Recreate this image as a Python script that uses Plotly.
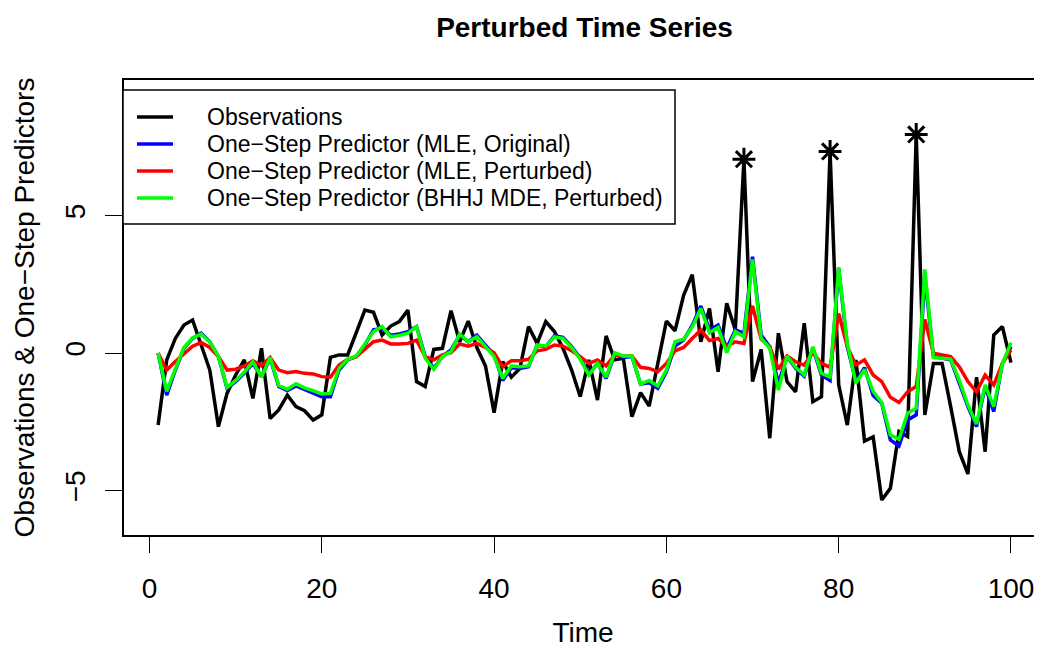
import plotly.graph_objects as go

time = list(range(1, 101))

observations = [
    -2.62, -0.25, 0.53, 1.02, 1.20, 0.25, -0.62, -2.68, -1.47, -0.80,
    -0.25, -1.65, 0.17, -2.38, -2.07, -1.53, -1.95, -2.10, -2.44, -2.25,
    -0.16, -0.07, -0.07, 0.74, 1.56, 1.48, 0.65, 0.98, 1.14, 1.56,
    -1.04, -1.22, 0.13, 0.17, 1.54, 0.41, 1.16, 0.20, -0.47, -2.17,
    -0.31, -0.88, -0.56, 0.96, 0.35, 1.14, 0.78, 0.17, -0.62, -1.59,
    -0.25, -1.71, 0.62, -0.25, -0.19, -2.32, -1.44, -1.93, -0.38, 1.16,
    0.81, 2.10, 2.85, 0.41, 1.62, -0.68, 1.81, 0.84, 7.05, -1.04,
    0.13, -3.10, 0.72, -1.04, -1.41, 1.08, -1.77, -1.59, 7.33, -1.16,
    -2.62, -0.25, -3.20, -3.05, -5.35, -4.92, -2.86, -3.04, 7.95, -2.25,
    -0.38, -0.38, -1.95, -3.59, -4.40, -0.88, -3.59, 0.65, 0.96, -0.35,
]

mle_original = [
    0.00, -1.53, -0.62, 0.17, 0.53, 0.72, 0.41, -0.13, -1.28, -1.04,
    -0.74, -0.38, -0.86, -0.19, -1.22, -1.37, -1.20, -1.32, -1.44, -1.59,
    -1.59, -0.62, -0.25, -0.13, 0.29, 0.84, 0.90, 0.65, 0.69, 0.78,
    0.96, -0.13, -0.56, -0.13, 0.11, 0.65, 0.41, 0.65, 0.29, -0.07,
    -1.00, -0.54, -0.56, -0.50, 0.29, 0.23, 0.62, 0.57, 0.23, -0.19,
    -0.76, -0.38, -0.92, -0.04, -0.16, -0.13, -1.13, -1.08, -1.28, -0.68,
    0.25, 0.47, 1.00, 1.71, 0.84, 1.02, 0.17, 0.84, 0.72, 3.50,
    0.65, 0.23, -1.10, -0.13, -0.56, -0.84, 0.17, -0.80, -1.00, 3.08,
    0.23, -1.04, -0.53, -1.55, -1.83, -3.16, -3.38, -2.44, -2.25, 2.78,
    -0.13, -0.19, -0.25, -1.10, -1.95, -2.68, -1.22, -2.13, -0.38, 0.23,
]

mle_perturbed = [
    0.00, -0.62, -0.31, -0.01, 0.25, 0.38, 0.20, -0.13, -0.62, -0.59,
    -0.47, -0.28, -0.47, -0.16, -0.62, -0.72, -0.67, -0.74, -0.76, -0.86,
    -0.88, -0.44, -0.23, -0.13, 0.13, 0.41, 0.47, 0.33, 0.33, 0.35,
    0.47, -0.13, -0.25, -0.07, 0.01, 0.33, 0.25, 0.35, 0.20, 0.01,
    -0.50, -0.28, -0.28, -0.23, 0.08, 0.13, 0.29, 0.25, 0.08, -0.13,
    -0.38, -0.25, -0.47, -0.07, -0.11, -0.11, -0.52, -0.56, -0.68, -0.38,
    0.08, 0.20, 0.53, 0.84, 0.45, 0.53, 0.23, 0.41, 0.35, 1.71,
    0.50, 0.23, -0.59, -0.11, -0.32, -0.44, 0.01, -0.38, -0.52, 1.44,
    0.23, -0.44, -0.25, -0.80, -1.04, -1.61, -1.80, -1.41, -1.22, 1.22,
    -0.01, -0.07, -0.13, -0.50, -1.04, -1.41, -0.80, -1.16, -0.38, 0.11,
]

bhhj_perturbed = [
    0.00, -1.40, -0.58, 0.20, 0.55, 0.69, 0.40, -0.12, -1.25, -1.00,
    -0.70, -0.32, -0.88, -0.16, -1.18, -1.32, -1.12, -1.27, -1.37, -1.49,
    -1.47, -0.56, -0.23, -0.11, 0.33, 0.78, 0.96, 0.59, 0.64, 0.72,
    0.96, -0.19, -0.59, -0.13, 0.05, 0.69, 0.41, 0.59, 0.23, -0.13,
    -0.92, -0.47, -0.50, -0.47, 0.29, 0.25, 0.59, 0.53, 0.20, -0.23,
    -0.80, -0.38, -0.88, 0.01, -0.11, -0.11, -1.13, -1.00, -1.20, -0.62,
    0.41, 0.50, 0.95, 1.62, 0.74, 0.93, 0.01, 0.78, 0.59, 3.40,
    0.53, 0.17, -1.35, -0.11, -0.52, -0.80, 0.23, -0.74, -0.88, 3.12,
    0.35, -1.10, -0.60, -1.40, -1.80, -2.98, -3.14, -2.19, -2.01, 3.04,
    -0.16, -0.19, -0.22, -1.00, -1.89, -2.58, -1.16, -1.95, -0.40, 0.38,
]

outlier_times = [69, 79, 89]
outlier_values = [observations[t - 1] for t in outlier_times]

series_names = [
    "Observations",
    "One\u2212Step Predictor (MLE, Original)",
    "One\u2212Step Predictor (MLE, Perturbed)",
    "One\u2212Step Predictor (BHHJ MDE, Perturbed)",
]
series_colors = ["#000000", "#0000FF", "#FF0000", "#00FF00"]
series_values = [observations, mle_original, mle_perturbed, bhhj_perturbed]

x_ticks = [0, 20, 40, 60, 80, 100]
y_ticks = [-5, 0, 5]

FONT = "Liberation Sans, Arial, Helvetica, sans-serif"
# The page body has an 8px margin, so the figure is drawn 8px smaller
# and all page-pixel positions below are shifted by that offset.
OFF = 8
W, H = 1042 - OFF, 648 - OFF
ML, MR, MT = 124 - OFF, 0, 80 - OFF
MB = H - (535 - OFF)
PW, PH = W - ML - MR, H - MT - MB

def px_x(p):
    return (p - OFF - ML) / PW

def px_y(p):
    return (H - MB - (p - OFF)) / PH

fig = go.Figure()
for name, color, vals in zip(series_names, series_colors, series_values):
    fig.add_trace(go.Scatter(
        x=time, y=vals, mode="lines", name=name,
        line=dict(color=color, width=3.5), showlegend=False,
    ))

fig.add_trace(go.Scatter(
    x=outlier_times, y=outlier_values, mode="markers", showlegend=False,
    marker=dict(symbol="asterisk-open", size=19, color="black",
                line=dict(color="black", width=3)),
))

# legend box (manual, matching base R legend)
shapes = [dict(type="rect", xref="paper", yref="paper",
               x0=px_x(123), x1=px_x(675), y0=px_y(224), y1=px_y(90),
               line=dict(color="black", width=1.5), fillcolor="white",
               layer="above")]
annotations = []
leg_y = [117, 144, 171, 198]
for name, color, yy in zip(series_names, series_colors, leg_y):
    shapes.append(dict(type="line", xref="paper", yref="paper",
                       x0=px_x(137), x1=px_x(173), y0=px_y(yy), y1=px_y(yy),
                       line=dict(color=color, width=3.5), layer="above"))
    annotations.append(dict(xref="paper", yref="paper", x=px_x(205), y=px_y(yy),
                            text=name, showarrow=False, xanchor="left",
                            yanchor="middle",
                            font=dict(size=23, color="black", family=FONT)))

fig.update_layout(
    width=W, height=H,
    margin=dict(l=ML, r=MR, t=MT, b=MB, autoexpand=False),
    paper_bgcolor="white", plot_bgcolor="white",
    font=dict(family=FONT, color="black", size=28),
    title=dict(text="<b>Perturbed Time Series</b>", x=(584.5 - OFF) / W,
               xref="container", xanchor="center", y=1 - (27 - OFF) / H,
               yref="container", yanchor="middle",
               font=dict(size=28, family=FONT, color="black")),
    shapes=shapes,
    annotations=annotations,
    showlegend=False,
)

fig.update_xaxes(
    range=[-2.96, 103.6], tickvals=x_ticks, ticktext=[str(v) for v in x_ticks],
    showgrid=False, zeroline=False, showline=True, mirror=True,
    linecolor="black", linewidth=1.5, ticks="outside", ticklen=16,
    tickwidth=1.3, tickcolor="black", ticklabelstandoff=12, automargin=False,
    tickfont=dict(size=28),
    title=dict(text="Time", font=dict(size=28), standoff=28),
)
fig.update_yaxes(
    range=[-6.62, 9.93], tickvals=y_ticks,
    showgrid=False, zeroline=False, showline=True, mirror=False,
    linecolor="black", linewidth=1.5, ticks="outside", ticklen=17,
    tickwidth=1.3, tickcolor="black", tickangle=-90, ticklabelstandoff=9,
    automargin=False, tickfont=dict(size=28),
    title=dict(text="Observations & One\u2212Step Predictors", font=dict(size=28), standoff=17),
)

fig.write_html("out.html")
